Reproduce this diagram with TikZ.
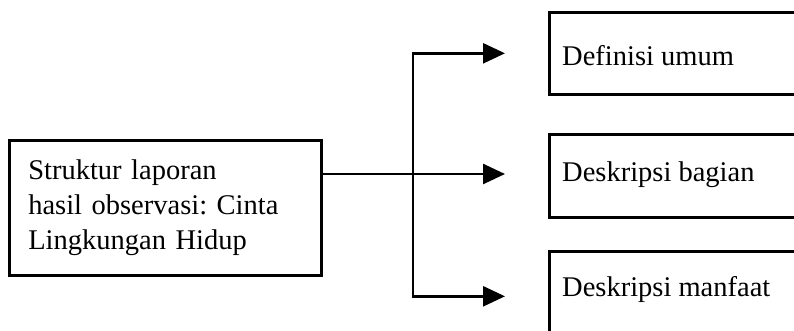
\documentclass[tikz,border=0pt]{standalone}
\usepackage{fontspec}
\setmainfont{Liberation Serif}
\usetikzlibrary{arrows.meta}
\frenchspacing
\begin{document}
\begin{tikzpicture}[x=1pt,y=-1pt,
  box/.style={draw, line width=2.6pt, rectangle, inner sep=0pt},
  txt/.style={font=\fontsize{28.5}{35}\selectfont, inner sep=0pt},
  arr/.style={-{Triangle[length=22pt,width=20pt]}, line width=2.6pt, shorten >=43pt}]
\useasboundingbox (0,0) rectangle (794,330);
\clip (0,0) rectangle (794,330);
\node[box, anchor=north west, minimum width=312pt, minimum height=135pt,
      text width=274pt, inner xsep=19pt, align=left,
      font=\fontsize{28.5}{35}\selectfont] (L) at (8,139)
      {Struktur laporan\\hasil observasi: Cinta\\Lingkungan Hidup};
\node[box, anchor=north west, minimum width=320pt, minimum height=82pt] (d1) at (548,11) {};
\node[box, anchor=north west, minimum width=320pt, minimum height=83pt] (d2) at (548,133) {};
\node[box, anchor=north west, minimum width=320pt, minimum height=90pt] (d3) at (548,250) {};
\node[txt, anchor=base west] (t1) at ([xshift=14pt,yshift=-54pt]d1.north west) {Definisi umum};
\node[txt, anchor=base west] (t2) at ([xshift=14pt,yshift=-48pt]d2.north west) {Deskripsi bagian};
\node[txt, anchor=base west] (t3) at ([xshift=14pt,yshift=-46pt]d3.north west) {Deskripsi manfaat};
\coordinate (br) at (413,174);
\draw[arr] (L.east |- br) -- (d2.west |- br);
\draw[arr] (br) |- (d1.west);
\draw[arr] (br) |- (d3.west);
\end{tikzpicture}
\end{document}
